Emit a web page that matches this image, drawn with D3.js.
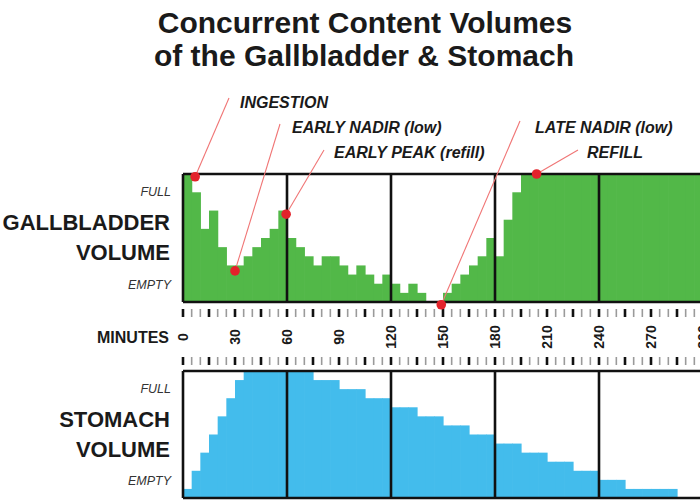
<!DOCTYPE html>
<html lang="en">
<head>
<meta charset="utf-8">
<title>Concurrent Content Volumes</title>
<script src="https://d3js.org/d3.v7.min.js"></script>
<style>
  body { margin: 0; background: #fff; }
  svg { display: block; font-family: "Liberation Sans", Arial, sans-serif; }
</style>
</head>
<body>
<script>

// 5-minute bins (start minute of each bar)
var binStarts = [0, 5, 10, 15, 20, 25, 30, 35, 40, 45, 50, 55,
                 60, 65, 70, 75, 80, 85, 90, 95, 100, 105, 110, 115,
                 120, 125, 130, 135, 140, 145, 150, 155, 160, 165, 170, 175,
                 180, 185, 190, 195, 200, 205, 210, 215, 220, 225, 230, 235,
                 240, 245, 250, 255, 260, 265, 270, 275, 280, 285, 290, 295];

// volume levels, 14 = full, 0 = empty
var gallbladder = [14, 12, 8, 10, 6, 4, 4, 5, 6, 7, 8, 10,
                   7, 6, 5, 4, 5, 5, 4, 3, 4, 3, 2, 3,
                   2, 1, 2, 1, 0, 0, 1, 2, 3, 4, 5, 7,
                   5, 9, 12, 14, 14, 14, 14, 14, 14, 14, 14, 14,
                   14, 14, 14, 14, 14, 14, 14, 14, 14, 14, 14, 14];

var stomach = [1, 3, 5, 7, 9, 11, 13, 14, 14, 14, 14, 14,
               14, 14, 14, 13, 13, 13, 12, 12, 12, 11, 11, 11,
               10, 10, 10, 9, 9, 9, 8, 8, 8, 7, 7, 7,
               6, 6, 6, 5, 5, 5, 4, 4, 4, 3, 3, 3,
               2, 2, 2, 1, 1, 1, 1, 1, 1, 0, 0, 0];

var tickLabels = [0, 30, 60, 90, 120, 150, 180, 210, 240, 270, 300];
var hourLines = [0, 60, 120, 180, 240, 300];

// callouts on the gallbladder curve (minute, level)
var callouts = [
  {label: "INGESTION",           minute: 7,   level: 13.7, tx: 240, ty: 108, lx: 229, ly: 98},
  {label: "EARLY NADIR (low)",   minute: 30,  level: 3.4,  tx: 292, ty: 133, lx: 280, ly: 124},
  {label: "EARLY PEAK (refill)", minute: 59.5, level: 9.6, tx: 334, ty: 158, lx: 324, ly: 150},
  {label: "LATE NADIR (low)",    minute: 149, level: -0.3, tx: 535, ty: 133, lx: 520, ly: 121},
  {label: "REFILL",              minute: 204, level: 14,   tx: 587, ty: 158, lx: 578, ly: 150}
];

var w = 700, h = 500;
var maxLevel = 14;

var svg = d3.select("body").append("svg")
  .attr("width", w)
  .attr("height", h);

var x = d3.scaleLinear().domain([0, 300]).range([183, 703]);
var binW = x(5) - x(0);

// Title
svg.append("text")
  .attr("x", 365).attr("y", 33)
  .attr("text-anchor", "middle")
  .style("font-size", "30px").style("font-weight", "bold").style("fill", "#1a1a1a")
  .text("Concurrent Content Volumes");
svg.append("text")
  .attr("x", 364).attr("y", 66)
  .attr("text-anchor", "middle")
  .style("font-size", "30px").style("font-weight", "bold").style("fill", "#1a1a1a")
  .text("of the Gallbladder & Stomach");

function drawPanel(values, top, bottom, color, name) {
  var y = d3.scaleLinear().domain([0, maxLevel]).range([bottom, top]);
  var g = svg.append("g");

  g.selectAll("rect")
    .data(values)
    .enter()
    .append("rect")
    .attr("x", function(d, i) { return x(binStarts[i]); })
    .attr("width", binW + 0.6)
    .attr("y", function(d) { return y(d); })
    .attr("height", function(d) { return y(0) - y(d); })
    .style("fill", color);

  // frame
  g.append("line")
    .attr("x1", x(0)).attr("x2", w)
    .attr("y1", top).attr("y2", top)
    .style("stroke", "#111").style("stroke-width", 2.6);
  g.append("line")
    .attr("x1", x(0)).attr("x2", w)
    .attr("y1", bottom).attr("y2", bottom)
    .style("stroke", "#111").style("stroke-width", 2.6);
  g.selectAll(".hour")
    .data(hourLines)
    .enter()
    .append("line")
    .attr("x1", function(d) { return x(d); })
    .attr("x2", function(d) { return x(d); })
    .attr("y1", top).attr("y2", bottom)
    .style("stroke", "#111").style("stroke-width", 2.6);

  // left labels
  var lx = 171;
  g.append("text").attr("x", lx).attr("y", top + 22)
    .attr("text-anchor", "end")
    .style("font-size", "12.5px").style("font-style", "italic").style("fill", "#333")
    .text("FULL");
  g.append("text").attr("x", lx - 1).attr("y", top + 56)
    .attr("text-anchor", "end")
    .style("font-size", "22px").style("font-weight", "bold").style("fill", "#1a1a1a")
    .text(name);
  g.append("text").attr("x", lx - 1).attr("y", top + 86)
    .attr("text-anchor", "end")
    .style("font-size", "22px").style("font-weight", "bold").style("fill", "#1a1a1a")
    .text("VOLUME");
  g.append("text").attr("x", lx).attr("y", bottom - 13)
    .attr("text-anchor", "end")
    .style("font-size", "12.5px").style("font-style", "italic").style("fill", "#333")
    .text("EMPTY");

  return y;
}

var yG = drawPanel(gallbladder, 174, 302, "#52b848", "GALLBLADDER");
drawPanel(stomach, 371, 498, "#43bcec", "STOMACH");

// minutes band
var tickMinutes = binStarts.concat([300]);
[[309, 317], [357, 365]].forEach(function(r) {
  svg.append("g").selectAll("line")
    .data(tickMinutes)
    .enter()
    .append("line")
    .attr("x1", function(d) { return x(d); })
    .attr("x2", function(d) { return x(d); })
    .attr("y1", r[0]).attr("y2", r[1])
    .style("stroke", function(d) { return d % 15 === 0 ? "#111" : "#9a9a9a"; })
    .style("stroke-width", function(d) { return d % 15 === 0 ? 2.6 : 1.6; });
});

svg.append("g").selectAll("text")
  .data(tickLabels)
  .enter()
  .append("text")
  .attr("transform", function(d) { return "translate(" + (x(d) + 5) + ",337) rotate(-90)"; })
  .attr("text-anchor", "middle")
  .style("font-size", "14px").style("font-weight", "bold").style("fill", "#1a1a1a")
  .text(function(d) { return d; });

svg.append("text")
  .attr("x", 169).attr("y", 343)
  .attr("text-anchor", "end")
  .style("font-size", "16px").style("font-weight", "bold").style("fill", "#1a1a1a")
  .text("MINUTES");

// callouts
var cg = svg.append("g");
cg.selectAll("line")
  .data(callouts)
  .enter()
  .append("line")
  .attr("x1", function(d) { return x(d.minute); })
  .attr("y1", function(d) { return yG(d.level); })
  .attr("x2", function(d) { return d.lx; })
  .attr("y2", function(d) { return d.ly; })
  .style("stroke", "#f07575").style("stroke-width", 1.1);
cg.selectAll("circle")
  .data(callouts)
  .enter()
  .append("circle")
  .attr("cx", function(d) { return x(d.minute); })
  .attr("cy", function(d) { return yG(d.level); })
  .attr("r", 4.8)
  .style("fill", "#e3232b");
cg.selectAll("text")
  .data(callouts)
  .enter()
  .append("text")
  .attr("x", function(d) { return d.tx; })
  .attr("y", function(d) { return d.ty; })
  .style("font-size", "16px").style("font-weight", "bold").style("font-style", "italic")
  .style("fill", "#1a1a1a")
  .text(function(d) { return d.label; });

</script>
</body>
</html>
